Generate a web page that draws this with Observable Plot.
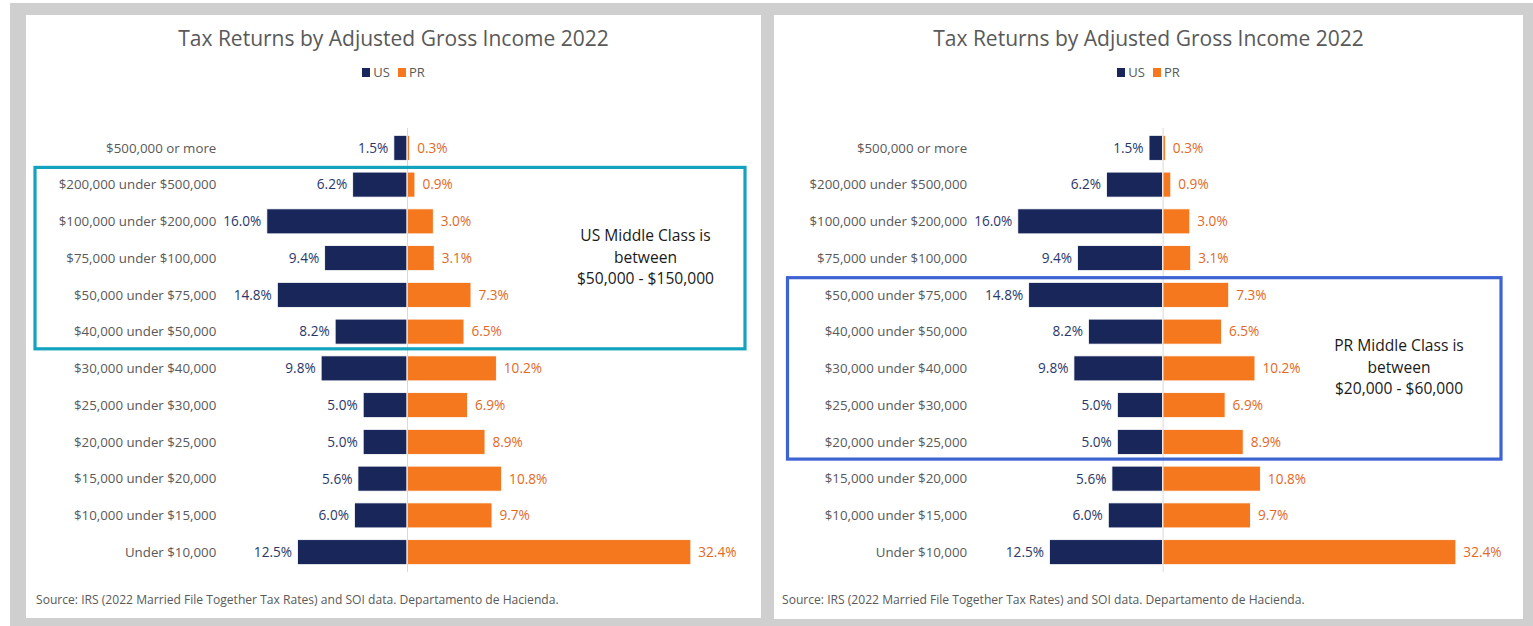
<!DOCTYPE html>
<html><head><meta charset="utf-8">
<script src="https://cdn.jsdelivr.net/npm/d3@7"></script>
<script src="https://cdn.jsdelivr.net/npm/@observablehq/plot@0.6"></script>
<style>
html,body{margin:0;padding:0;background:#fff;}
body{width:1533px;height:626px;position:relative;overflow:hidden;font-family:"Open Sans",sans-serif;}
#bg{position:absolute;left:10px;top:3px;width:1523px;height:623px;background:#d0cfd0;}
.panel{position:absolute;background:#fff;overflow:hidden;}
.title{position:absolute;left:0;right:0;top:10px;line-height:26px;text-align:center;font-size:21px;color:#595959;white-space:nowrap;}
.legend{position:absolute;left:0;right:0;top:49px;line-height:16px;text-align:center;font-size:13px;color:#595959;white-space:nowrap;}
.legend span.sw{display:inline-block;width:8px;height:9px;margin-right:3px;vertical-align:-0px;}
.legend span.item{margin:0 4px;}
.source{position:absolute;top:577px;line-height:16px;font-size:12.1px;color:#595959;white-space:nowrap;}
.panel svg{position:absolute;left:0;top:85px;}
</style></head>
<body>
<div id="bg"></div>
<div class="panel" id="p1" style="left:26px;top:15px;width:735px;height:603px"></div>
<div class="panel" id="p2" style="left:774px;top:15px;width:749px;height:604px"></div>
<script>
// ---------- data ----------
const categories = [
  "$500,000 or more",
  "$200,000 under $500,000",
  "$100,000 under $200,000",
  "$75,000 under $100,000",
  "$50,000 under $75,000",
  "$40,000 under $50,000",
  "$30,000 under $40,000",
  "$25,000 under $30,000",
  "$20,000 under $25,000",
  "$15,000 under $20,000",
  "$10,000 under $15,000",
  "Under $10,000"
];
const usShare = [1.5, 6.2, 16.0, 9.4, 14.8, 8.2, 9.8, 5.0, 5.0, 5.6, 6.0, 12.5];
const prShare = [0.3, 0.9, 3.0, 3.1, 7.3, 6.5, 10.2, 6.9, 8.9, 10.8, 9.7, 32.4];
const seriesNames = ["US", "PR"];
const seriesColors = ["#19265a", "#f5781f"];
const labelColors = ["#2a376b", "#e2691f"];
const titleText = "Tax Returns by Adjusted Gross Income 2022";
const sourceText = "Source: IRS (2022 Married File Together Tax Rates) and SOI data. Departamento de Hacienda.";
const noteLines = [
  ["US Middle Class is", "between", "$50,000 - $150,000"],
  ["PR Middle Class is", "between", "$20,000 - $60,000"]
];
const noteFrom = ["$200,000 under $500,000", "$50,000 under $75,000"];
const noteTo = ["$40,000 under $50,000", "$20,000 under $25,000"];
const noteColors = ["#14a3bf", "#3e63d2"];

// ---------- layout (per panel) ----------
const panels = [
  {id: "p1", width: 735, xDomain: [-20, 40], marginLeft: 205.8, marginRight: 3.6, tickPadding: 16, boxLeft: 9, boxRight: 16, noteX: 619.5, sourceLeft: 10},
  {id: "p2", width: 749, xDomain: [-20, 39], marginLeft: 207.6, marginRight: 7.4, tickPadding: 15, boxLeft: 13.5, boxRight: 22, noteX: 625, sourceLeft: 8}
];
const noteFont = 15.6, noteStep = 21.4;

const rows = [];
categories.forEach((c, i) => {
  rows.push({cat: c, side: seriesNames[0], value: usShare[i], v: -usShare[i]});
  rows.push({cat: c, side: seriesNames[1], value: prShare[i], v: prShare[i]});
});
const usRows = rows.filter(d => d.side === seriesNames[0]);
const prRows = rows.filter(d => d.side === seriesNames[1]);
const fmt = d => d.value.toFixed(1) + "%";

panels.forEach((p, k) => {
  const el = document.getElementById(p.id);
  const t = document.createElement("div");
  t.className = "title"; t.textContent = titleText; el.appendChild(t);
  const lg = document.createElement("div");
  lg.className = "legend";
  lg.innerHTML = seriesNames.map((s, i) =>
    `<span class="item"><span class="sw" style="background:${seriesColors[i]}"></span>${s}</span>`).join("");
  el.appendChild(lg);

  const svg = Plot.plot({
    width: p.width,
    height: 490,
    marginTop: 28,
    marginBottom: 18,
    marginLeft: p.marginLeft,
    marginRight: p.marginRight,
    style: {fontFamily: "'Open Sans', sans-serif", fontSize: "13.3px", color: "#595959", background: "transparent", overflow: "visible"},
    x: {domain: p.xDomain, axis: null},
    y: {domain: categories, paddingInner: 0.32, paddingOuter: 0.2, round: false, label: null},
    color: {domain: seriesNames, range: seriesColors},
    marks: [
      Plot.axisY({tickSize: 0, tickPadding: p.tickPadding, label: null, fontSize: 13.3}),
      Plot.barX(rows, {y: "cat", x1: 0, x2: "v", fill: "side", stroke: "white", strokeWidth: 0.8}),
      Plot.ruleX([0], {stroke: "#d9d9d9", strokeWidth: 1}),
      Plot.text(usRows, {y: "cat", x: "v", text: fmt, textAnchor: "end", dx: -6, fill: labelColors[0], fontSize: 13.6}),
      Plot.text(prRows, {y: "cat", x: "v", text: fmt, textAnchor: "start", dx: 7, fill: labelColors[1], fontSize: 13.6})
    ]
  });
  el.appendChild(svg);

  // annotation box + text lines, positioned from the y scale
  const ys = svg.scale("y");
  const half = 17.2;
  const top = ys.apply(noteFrom[k]) + ys.bandwidth / 2 - half;
  const bottom = ys.apply(noteTo[k]) + ys.bandwidth / 2 + half;
  const g = d3.select(svg).append("g");
  g.append("rect")
    .attr("x", p.boxLeft).attr("y", top)
    .attr("width", p.width - p.boxLeft - p.boxRight).attr("height", bottom - top)
    .attr("fill", "none").attr("stroke", noteColors[k]).attr("stroke-width", 3.2);
  const mid = (top + bottom) / 2 - 1;
  noteLines[k].forEach((line, j) => {
    g.append("text")
      .attr("x", p.noteX).attr("y", mid + (j - 1) * noteStep)
      .attr("dy", "0.35em")
      .attr("text-anchor", "middle")
      .attr("font-size", noteFont).attr("fill", "#1a1a1a")
      .text(line);
  });

  const s = document.createElement("div");
  s.className = "source"; s.style.left = p.sourceLeft + "px"; s.textContent = sourceText;
  el.appendChild(s);
});
</script>
</body></html>
